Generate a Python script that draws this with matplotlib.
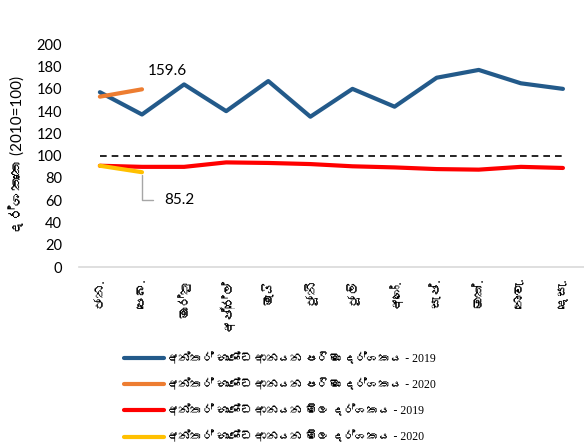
import matplotlib
matplotlib.use("Agg")
from matplotlib import pyplot as plt
from matplotlib import font_manager, ft2font

# Data
months = ["ජන.", "පෙබ.", "මාර්තු", "අප්‍රේල්", "මැයි", "ජූනි", "ජූලි",
          "අගෝ.", "සැප්.", "ඔක්.", "නොවැ.", "දෙසැ."]
volume_2019 = [157, 137, 164, 140, 167, 135, 160, 144, 170, 177, 165, 160]
volume_2020 = [153, 159.6]
price_2019 = [91, 90, 90, 94, 93.5, 92.5, 90.5, 89.5, 88, 87.5, 90, 89]
price_2020 = [91, 85.2]
base_line = [100] * 12

labels = ["අන්තර් භාණ්ඩ ආනයන පරිමා දර්ශකය - 2019",
          "අන්තර් භාණ්ඩ ආනයන පරිමා දර්ශකය - 2020",
          "අන්තර් භාණ්ඩ ආනයන මිල දර්ශකය - 2019",
          "අන්තර් භාණ්ඩ ආනයන මිල දර්ශකය - 2020"]
colors = ["#235A8A", "#ED7D31", "#FF0000", "#FFC000"]

# Look for any installed font with Sinhala glyphs
sinhala = []
for f in font_manager.fontManager.ttflist:
    try:
        if 0x0D9A in ft2font.FT2Font(f.fname).get_charmap():
            sinhala.append(f.name)
    except Exception:
        pass
fams = ["Lato"] + sinhala[:1] + ["DejaVu Sans"]
plt.rcParams["font.family"] = fams

fig = plt.figure(figsize=(5.84, 4.43), dpi=100)
ax = fig.add_axes([0.135, 0.397, 0.865, 0.503])

x = list(range(12))
ax.plot(x, volume_2019, color=colors[0], lw=3, label=labels[0], solid_capstyle="round")
ax.plot(x[:2], volume_2020, color=colors[1], lw=3, label=labels[1], solid_capstyle="round")
ax.plot(x, price_2019, color=colors[2], lw=3, label=labels[2], solid_capstyle="round")
ax.plot(x[:2], price_2020, color=colors[3], lw=3, label=labels[3], solid_capstyle="round")
ax.plot(x, base_line, color="black", lw=1.2, ls=(0, (4, 3)))

ax.annotate(f"{volume_2020[1]}", (x[1], volume_2020[1]), xytext=(4, 8),
            textcoords="offset points", fontsize=11, ha="left", va="bottom")
ax.annotate(f"{price_2020[1]}", (x[1], price_2020[1]), xytext=(16, -20),
            textcoords="offset points", fontsize=11, ha="left", va="center",
            arrowprops=dict(arrowstyle="-", color="#A6A6A6", lw=1,
                            connectionstyle="angle,angleA=0,angleB=90,rad=0",
                            shrinkA=6, shrinkB=2))

ax.set_xlim(-0.5, 11.5)
ax.set_ylim(0, 200)
ax.set_yticks(range(0, 201, 20))
ax.set_xticks(x)
ax.set_xticklabels(months, rotation=90, va="top", ha="center", fontsize=9.5)
ax.tick_params(axis="y", length=0, pad=12, labelsize=10.5)
ax.tick_params(axis="x", length=0, pad=8)
for s in ["top", "right", "left"]:
    ax.spines[s].set_visible(False)
ax.spines["bottom"].set_color("#D9D9D9")
ax.spines["bottom"].set_linewidth(1.2)
ax.set_ylabel("දර්ශකාංක (2010=100)", fontsize=11, labelpad=8)

handles, hl = ax.get_legend_handles_labels()
fig.legend(handles[:4], hl[:4], loc="upper left", bbox_to_anchor=(0.212, 0.203),
           frameon=False, handlelength=3.4, handletextpad=0.3, labelspacing=1.15,
           borderaxespad=0, borderpad=0,
           prop={"family": ["Liberation Serif"] + sinhala[:1] + ["DejaVu Sans"], "size": 8.5})

fig.savefig("out.png", dpi=100)
